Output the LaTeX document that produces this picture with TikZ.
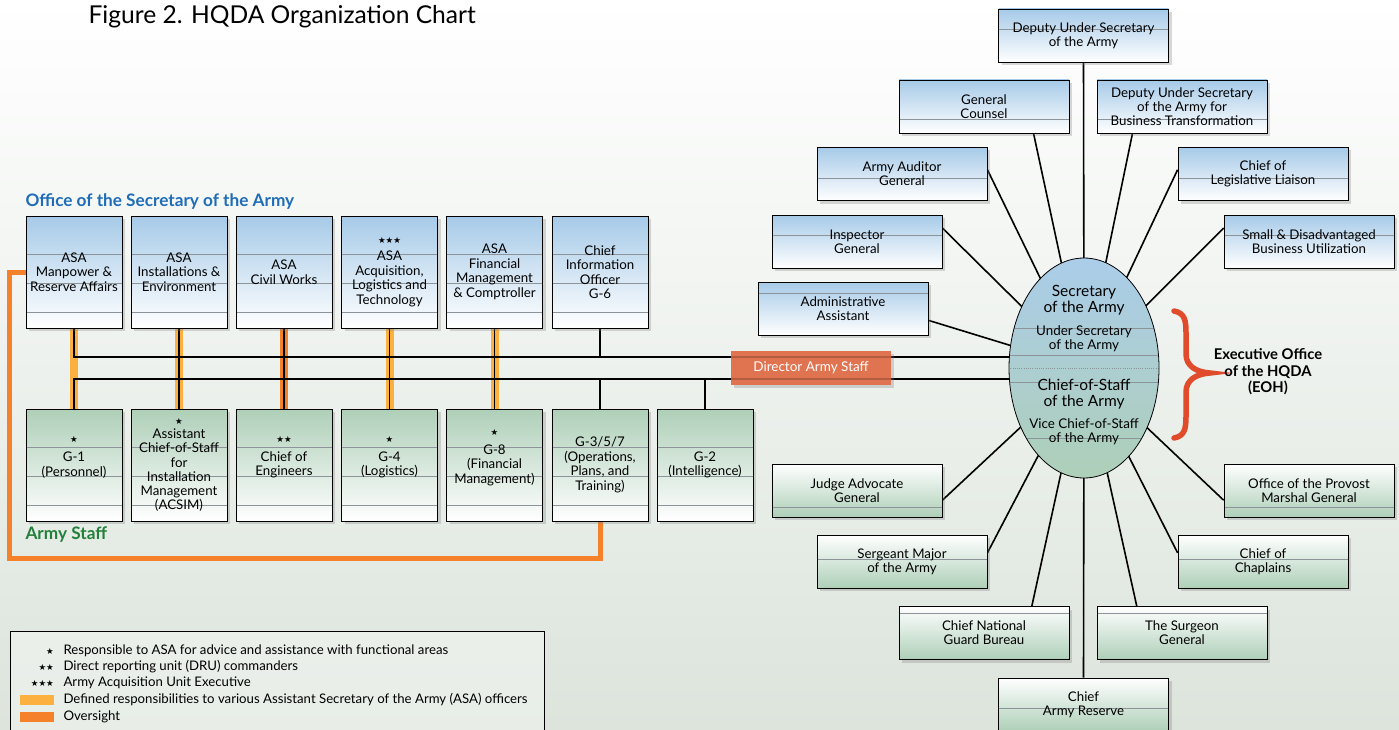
\documentclass[tikz,border=0pt]{standalone}
\usepackage{fontspec}
\setmainfont{Lato}
\newfontfamily\symfont{DejaVu Sans}
\usepackage{tikz}
\usetikzlibrary{calc,backgrounds,shapes.geometric,shadows}
\definecolor{bluebox}{HTML}{A6CAE8}
\definecolor{greenbox}{HTML}{AECFB8}
\definecolor{bggreen}{HTML}{DCE4DC}
\definecolor{rulecol}{HTML}{8C949A}
\definecolor{asaorange}{HTML}{FBB040}
\definecolor{oversight}{HTML}{F5822A}
\definecolor{dascol}{HTML}{E07350}
\definecolor{bracecol}{HTML}{E04B2C}
\definecolor{osablue}{HTML}{1F6DB8}
\definecolor{staffgreen}{HTML}{23803A}

\newcommand{\stars}[1]{{\symfont\fontsize{8.5}{9}\selectfont #1}}
\newcommand{\starover}[2]{\setbox0\hbox{#2}\rlap{\hbox to\wd0{\hss\raisebox{19pt}[0pt][0pt]{#1}\hss}}\box0}

\tikzset{
  shadowed/.style={drop shadow={opacity=0.3, shadow xshift=3pt, shadow yshift=-3pt}},
  threelines/.style={path picture={
      \foreach \f in {0.34,0.6,0.86}
        \draw[rulecol, very thin] ($(path picture bounding box.north west)!\f!(path picture bounding box.south west)$) -- ++(300,0);}},
  oneline/.style={path picture={
      \draw[rulecol, very thin] ($(path picture bounding box.north west)!#1!(path picture bounding box.south west)$) -- ++(300,0);}},
  colbox/.style={draw, line width=0.8pt, minimum width=96, minimum height=112, inner sep=1pt,
      align=center, font=\fontsize{13.3}{14.5}\selectfont, shadowed, threelines},
  asabox/.style={colbox, top color=bluebox, bottom color=white},
  staffbox/.style={colbox, top color=greenbox, bottom color=white},
  sidebox/.style={draw, line width=0.8pt, minimum width=170, minimum height=53, inner sep=2pt,
      align=center, font=\fontsize{13.3}{14}\selectfont, shadowed, oneline=#1},
  upbox/.style={sidebox=#1, top color=bluebox, bottom color=white},
  downbox/.style={sidebox=#1, top color=white, bottom color=greenbox},
  bus/.style={line width=1.3pt},
  spoke/.style={line width=1.6pt},
  asabar/.style={line width=8pt, asaorange},
  oversightbar/.style={line width=8pt, oversight},
  legtext/.style={anchor=west, font=\fontsize{13.2}{14}\selectfont},
  legstar/.style={anchor=east, inner sep=1pt},
  eltext/.style={align=center, font=\fontsize{13.4}{13.8}\selectfont},
  elbig/.style={align=center, font=\fontsize{15.5}{16}\selectfont}
}

\begin{document}
\begin{tikzpicture}[x=1pt, y=-1pt]
  \useasboundingbox (0,0) rectangle (1399,730);

  % title and group labels
  \node[anchor=west, font=\fontsize{24.6}{26}\selectfont] (title) at (85,17) {Figure 2. HQDA Organization Chart};
  \node[anchor=west, osablue, font=\fontsize{17.2}{18}\bfseries] (osa) at (22,202) {Office of the Secretary of the Army};
  \node[anchor=west, staffgreen, font=\fontsize{17.2}{18}\bfseries] (staff) at (22,535) {Army Staff};

  % Office of the Secretary of the Army
  \node[asabox] (asa1) at (74,272) {ASA\\Manpower \&\\Reserve Affairs};
  \node[asabox] (asa2) at (179,272) {ASA\\Installations \&\\Environment};
  \node[asabox] (asa3) at (284,272) {ASA\\Civil Works};
  \node[asabox] (asa4) at (389.5,272) {\stars{★★★}\\[3pt]ASA\\Acquisition,\\Logistics and\\Technology};
  \node[asabox] (asa5) at (494.5,272) {ASA\\Financial\\Management\\\& Comptroller};
  \node[asabox] (cio) at (600,272) {Chief\\Information\\Officer\\G-6};

  % Army Staff
  \node[staffbox] (g1) at (74,465) {\starover{\stars{★}}{G-1}\\(Personnel)};
  \node[staffbox, font=\fontsize{13.3}{14.2}\selectfont] (acsim) at (179,465) {\stars{★}\\Assistant\\Chief-of-Staff\\for\\Installation\\Management\\(ACSIM)};
  \node[staffbox] (coe) at (284,465) {\starover{\stars{★★}}{Chief of}\\Engineers};
  \node[staffbox] (g4) at (389.5,465) {\starover{\stars{★}}{G-4}\\(Logistics)};
  \node[staffbox] (g8) at (494.5,465) {\starover{\stars{★}}{G-8}\\(Financial\\Management)};
  \node[staffbox] (g3) at (600,465) {G-3/5/7\\(Operations,\\Plans, and\\Training)};
  \node[staffbox] (g2) at (705,465) {G-2\\(Intelligence)};

  \coordinate (tbus) at (74,357);
  \coordinate (lbus) at (74,379);

  % Director Army Staff
  \node[fill=dascol, text=white, minimum width=160, minimum height=34, font=\fontsize{13.5}{14}\selectfont,
        shadowed, path picture={
          \draw[dascol!80!black, line width=1.2pt] ($(path picture bounding box.north west)+(0,6)$) -- ++(300,0);
          \draw[dascol!80!black, line width=1.2pt] ($(path picture bounding box.south west)+(0,-6)$) -- ++(300,0);}]
        (das) at (811,368) {Director Army Staff};

  % Secretary and Chief-of-Staff
  \node[ellipse, draw, line width=0.8pt, minimum width=150, minimum height=220, inner sep=0pt,
        top color=bluebox!95!white, middle color=bluebox!70!blue!25!greenbox, bottom color=greenbox,
        path picture={
          \foreach \f in {0.318,0.441,0.564,0.818}
            \draw[rulecol, very thin] ($(path picture bounding box.north)!\f!(path picture bounding box.south)+(-100,0)$) -- ++(200,0);
          \draw[rulecol, very thin, dotted] ($(path picture bounding box.north)!0.5!(path picture bounding box.south)+(-100,0)$) -- ++(200,0);}]
        (e) at (1084,368) {};
  \node[elbig] (sec) at (1084,300) {Secretary\\of the Army};
  \node[eltext] (usa) at (1084,339) {Under Secretary\\of the Army};
  \node[elbig] (csa) at (1084,394) {Chief-of-Staff\\of the Army};
  \node[eltext] (vcsa) at (1084,432) {Vice Chief-of-Staff\\of the Army};

  % boxes round the ellipse
  \node[upbox=0.38] (dusa) at (1083.5,35.5) {Deputy Under Secretary\\of the Army};
  \node[upbox=0.74] (gc) at (984,106.5) {General\\Counsel};
  \node[upbox=0.74] (dusabt) at (1182,106.5) {Deputy Under Secretary\\of the Army for\\Business Transformation};
  \node[upbox=0.57] (aag) at (902,174) {Army Auditor\\General};
  \node[upbox=0.57] (cll) at (1263,174) {Chief of\\Legislative Liaison};
  \node[upbox=0.38] (ig) at (857,241.5) {Inspector\\General};
  \node[upbox=0.38] (sdbu) at (1309,241.5) {Small \& Disadvantaged\\Business Utilization};
  \node[upbox=0.2] (aa) at (843,308.5) {Administrative\\Assistant};
  \node[downbox=0.81] (jag) at (857,490.5) {Judge Advocate\\General};
  \node[downbox=0.81] (opmg) at (1309,490.5) {Office of the Provost\\Marshal General};
  \node[downbox=0.45] (sma) at (902,561.5) {Sergeant Major\\of the Army};
  \node[downbox=0.45] (coc) at (1263,561.5) {Chief of\\Chaplains};
  \node[downbox=0.13] (cngb) at (984,633) {Chief National\\Guard Bureau};
  \node[downbox=0.13] (tsg) at (1182,633) {The Surgeon\\General};
  \node[downbox=0.57] (car) at (1083.5,704.5) {Chief\\Army Reserve};

  % Executive Office
  \draw[bracecol, line width=5.5pt, line cap=round]
    (1174,311) .. controls (1185,313) and (1186,321) .. (1186,333) -- (1186,354)
    .. controls (1186,366) and (1196,372) .. (1210,373)
    .. controls (1196,374) and (1186,380) .. (1186,392) -- (1186,416)
    .. controls (1186,428) and (1185,436) .. (1174,438);
  \node[align=center, font=\fontsize{14.8}{16.5}\bfseries] (eoh) at (1268,372) {Executive Office\\of the HQDA\\(EOH)};

  % legend
  \node[draw, line width=0.8pt, fill=white, fill opacity=0.35, anchor=north west,
        minimum width=534, minimum height=120] (legend) at (10,631) {};
  \node[legstar] (ls1) at (55,651) {\stars{★}};
  \node[legstar] (ls2) at (55,667) {\stars{★★}};
  \node[legstar] (ls3) at (55,683) {\stars{★★★}};
  \node[fill=asaorange, minimum width=34, minimum height=10, inner sep=0pt] (lsw1) at (37,700) {};
  \node[fill=oversight, minimum width=34, minimum height=10, inner sep=0pt] (lsw2) at (37,717) {};
  \node[legtext] (lt1) at (60,651) {Responsible to ASA for advice and assistance with functional areas};
  \node[legtext] (lt2) at (60,667) {Direct reporting unit (DRU) commanders};
  \node[legtext] (lt3) at (60,683) {Army Acquisition Unit Executive};
  \node[legtext] (lt4) at (60,700) {Defined responsibilities to various Assistant Secretary of the Army (ASA) officers};
  \node[legtext] (lt5) at (60,717) {Oversight};

  \begin{scope}[on background layer]
    \fill[top color=white, bottom color=bggreen] (0,0) rectangle (1399,730);
    % responsibilities and oversight
    \foreach \t/\b in {asa1/g1, asa2/acsim, asa4/g4, asa5/g8}
      \draw[asabar] (\t.south) -- (\b.north);
    \draw[oversightbar] (asa3.south) -- (coe.north);
    \draw[oversight, line width=5pt] (asa1.west) -- ++(-16,0) |- ($(g3.south)+(0,37)$) -- (g3.south);
    % staff lines
    \draw[bus] (asa1.south) -- (tbus) -- (tbus -| e.center);
    \draw[bus] (g1.north) -- (lbus) -- (lbus -| e.center);
    \foreach \t/\b in {asa2/acsim, asa3/coe, asa4/g4, asa5/g8}
      \draw[bus] (\t.south) -- (\b.north);
    \draw[bus] (cio.south) -- (cio.south |- tbus);
    \draw[bus] (g3.north) -- (g3.north |- lbus);
    \draw[bus] (g2.north) -- (g2.north |- lbus);
    % spokes
    \foreach \a/\b/\f in {dusa.south west/dusa.south east/0.5, gc.south west/gc.south east/0.79,
        dusabt.south west/dusabt.south east/0.21, aag.north east/aag.south east/0.42,
        cll.north west/cll.south west/0.42, ig.north east/ig.south east/0.25,
        sdbu.north west/sdbu.south west/0.25, aa.north east/aa.south east/0.72,
        jag.north east/jag.south east/0.68, opmg.north west/opmg.south west/0.68,
        sma.north east/sma.south east/0.34, coc.north west/coc.south west/0.34,
        cngb.north west/cngb.north east/0.78, tsg.north west/tsg.north east/0.235,
        car.north west/car.north east/0.5}
      \draw[spoke] (e.center) -- ($(\a)!\f!(\b)$);
  \end{scope}
\end{tikzpicture}
\end{document}
